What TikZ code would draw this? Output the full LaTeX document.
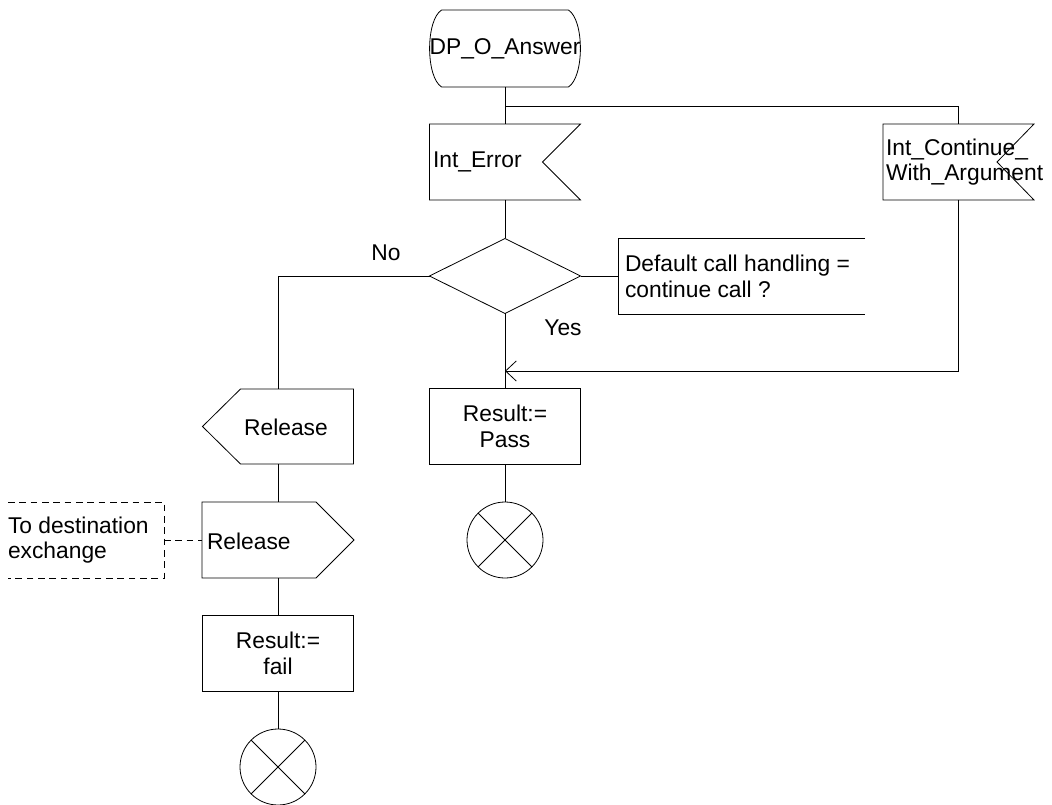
\documentclass[tikz,border=0pt]{standalone}
\usepackage{fontspec}
\setmainfont{Liberation Sans}
\usetikzlibrary{shapes.geometric,arrows.meta,calc}
\begin{document}
\begin{tikzpicture}[x=0.75pt,y=-0.75pt,line width=0.6pt,
  every node/.style={font=\fontsize{17.1}{19}\selectfont,inner sep=0pt,outer sep=0pt},
  area/.style={rectangle,draw=none,minimum width=#1},
  area/.default=113.25pt,
  stepbox/.style={rectangle,draw,minimum width=113.25pt,minimum height=57pt,align=center},
  ended/.style={circle,draw,minimum size=57pt},
  lbl/.style={align=left,anchor=west},
  barb/.style={-{Straight Barb[length=8pt,width=15pt,line width=0.6pt]}}]
\useasboundingbox (0,0) rectangle (1052,805);

% nodes
\node[area=111pt,minimum height=57.75pt] (start) at (505,48.5) {DP\_O\_Answer};
\node[area,minimum height=57pt] (err) at (505,162) {};
\node[lbl] (errt) at (433,162) {Int\_Error};
\node[area,minimum height=57pt] (cont) at (958.5,162) {};
\node[lbl] (contt) at (886,162) {Int\_Continue\_\\With\_Argument};
\node[diamond,draw,minimum width=113.25pt,minimum height=56.25pt] (dec) at (505,276) {};
\node[area=185.25pt,minimum height=57pt] (cmt) at (741.5,276) {};
\node[lbl] (cmtt) at (625,276.5) {Default call handling =\\continue call ?};
\node (no) at (386,253) {No};
\node (yes) at (563,328) {Yes};
\coordinate (br) at (505,106);
\coordinate (join) at (505,371);
\node[stepbox] (pass) at (505,426.5) {Result:=\\Pass};
\node[ended] (c1) at (505,540) {};
\node[area,minimum height=56.25pt] (relin) at (278,426.5) {};
\node (relint) at (286,427) {Release};
\node[area=114pt,minimum height=57pt] (relout) at (278,540) {};
\node[lbl] (reloutt) at (207,541) {Release};
\node[area=117pt,minimum height=57pt] (dst) at (86,540) {};
\node[lbl] (dstt) at (8,540) {To destination\\exchange};
\node[stepbox] (fail) at (278,653.5) {Result:=\\fail};
\node[ended] (c2) at (278,767) {};

% outlines
\draw (start.north west) ++(12,0) -- ($(start.north east)+(-12,0)$)
  .. controls ($(start.north east)+(4,10)$) and ($(start.south east)+(4,-10)$) .. ($(start.south east)+(-12,0)$)
  -- ($(start.south west)+(12,0)$)
  .. controls ($(start.south west)+(-4,-10)$) and ($(start.north west)+(-4,10)$) .. ($(start.north west)+(12,0)$) -- cycle;
\draw (err.north west) -- (err.north east) -- ($(err.east)+(-38,0)$) -- (err.south east) -- (err.south west) -- cycle;
\draw (cont.north west) -- (cont.north east) -- ($(cont.east)+(-37,0)$) -- (cont.south east) -- (cont.south west) -- cycle;
\draw (cmt.north east) -- (cmt.north west) -- (cmt.south west) -- (cmt.south east);
\draw ($(relin.north west)+(38,0)$) -- (relin.north east) -- (relin.south east) -- ($(relin.south west)+(38,0)$) -- (relin.west) -- cycle;
\draw (relout.north west) -- ($(relout.north east)+(-38,0)$) -- (relout.east) -- ($(relout.south east)+(-38,0)$) -- (relout.south west) -- cycle;
\draw[dashed,dash pattern=on 5pt off 3.5pt] (dst.north west) -- (dst.north east) -- (dst.south east) -- (dst.south west);
\foreach \c in {c1,c2}{
  \draw (\c.north west) -- (\c.south east);
  \draw (\c.north east) -- (\c.south west);
}

% connectors
\draw (start.south) -- (err.north);
\draw (br) -| (cont.north);
\draw (err.south) -- (dec.north);
\draw (dec.south) -- (pass.north);
\draw (dec.west) -| (relin.north);
\draw (dec.east) -- (cmt.west);
\draw[barb] (cont.south) |- (join);
\draw (pass.south) -- (c1.north);
\draw (relin.south) -- (relout.north);
\draw (relout.south) -- (fail.north);
\draw (fail.south) -- (c2.north);
\draw[dashed,dash pattern=on 5pt off 3.5pt] (dst.east) -- (relout.west);
\end{tikzpicture}
\end{document}
